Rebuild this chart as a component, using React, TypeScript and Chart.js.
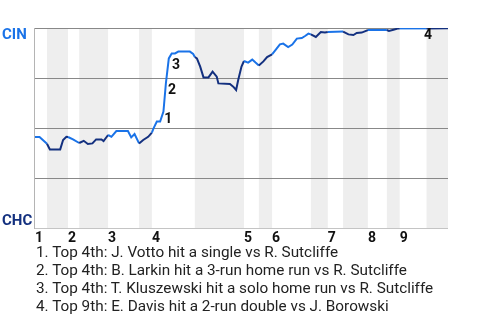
import React, { useEffect, useRef } from "react";
import { Chart, registerables } from "chart.js";

Chart.register(...registerables);

// Play index (0..100) across the game and CIN win probability (%)
const playX = [
  0, 1.1, 1.9, 2.9, 3.6, 6.1, 6.8, 7.6, 8.0, 9.2, 10.7, 11.8, 12.8, 13.9, 14.8, 16.1, 16.6,
  17.7, 18.5, 19.7, 22.5, 23.3, 24.1, 25.2, 26.2, 27.4, 28.3, 28.7, 29.5, 30.3, 31.1, 31.7,
  32.4, 33.1, 33.9, 34.7, 37.5, 38.3, 38.7, 39.2, 40.0, 40.8, 42.0, 43.0, 44.0, 44.4, 47.2,
  48.0, 48.7, 49.2, 50.0, 50.6, 51.6, 52.6, 53.4, 54.2, 55.3, 56.2, 57.4, 58.5, 59.3, 60.1,
  61.3, 62.3, 63.4, 64.6, 65.4, 66.2, 66.8, 68.0, 69.2, 70.2, 70.9, 74.6, 75.9, 77.1, 77.9,
  79.1, 80.3, 80.6, 85.2, 85.7, 86.8, 88.0, 88.3, 93.7, 94.8, 100,
];
const cinWinPct = [
  45.5, 45.5, 44, 42.1, 39.3, 39.3, 44, 45.6, 45.5, 44.3, 42.5, 43.6, 42, 42.3, 44.3, 44.3, 43.5,
  46.5, 45.6, 48.5, 48.5, 45.3, 47, 42.3, 44, 45.6, 47.7, 49.8, 53.2, 53.2, 58.2, 72.5,
  84.8, 87.3, 87.3, 88.2, 88.2, 87, 85.5, 84.8, 80.7, 75.3, 75.3, 78.2, 75.7, 72.3, 72,
  70.7, 69, 74, 80.7, 83.5, 82.7, 84.2, 82.7, 81.3, 83.3, 85.5, 86.8, 89.7, 91.8, 92.2,
  90.5, 91.7, 94.7, 95, 96, 97.2, 96.8, 95.5, 98, 97.7, 98, 98.2, 96.8, 96.5, 97.5,
  97.7, 98.7, 99, 99, 98.5, 99.1, 99.8, 99.8, 99.8, 99.8, 99.9,
];

// Half-inning boundaries (play index): top1, bot1, top2, bot2, ... end
const halfInningStarts = [
  0, 2.9, 8.0, 10.7, 17.7, 25.2, 28.3, 38.7, 50.6, 54.2, 57.4, 66.8, 70.9, 74.6, 80.6, 85.2, 88.3, 94.8, 100,
];
const inningLabels = ["1", "2", "3", "4", "5", "6", "7", "8", "9"];

// Key events
const eventLabels = ["1", "2", "3", "4"];
const eventPlay = [30.8, 31.7, 32.7, 93.7];
const eventWP = [58, 72.5, 85, 99.8];
const eventTexts = [
  "1. Top 4th: J. Votto hit a single vs R. Sutcliffe",
  "2. Top 4th: B. Larkin hit a 3-run home run vs R. Sutcliffe",
  "3. Top 4th: T. Kluszewski hit a solo home run vs R. Sutcliffe",
  "4. Top 9th: E. Davis hit a 2-run double vs J. Borowski",
];

const gridValues = [25, 50, 75, 100];
const teamTop = "CIN";
const teamBottom = "CHC";

const CIN_COLOR = "#1a73e8";
const CHC_COLOR = "#13307f";
const FONT = "Roboto, 'Noto Sans', sans-serif";

function isTopHalf(x: number): boolean {
  for (let i = 0; i < halfInningStarts.length - 1; i++) {
    if (x >= halfInningStarts[i] && x < halfInningStarts[i + 1]) return i % 2 === 0;
  }
  return false;
}

const decorPlugin = {
  id: "decor",
  beforeDatasetsDraw(chart: any) {
    const { ctx, chartArea, scales } = chart;
    const xs = scales.x;
    const ys = scales.y;
    ctx.save();
    // bottom-half bands
    ctx.fillStyle = "#eeeeee";
    for (let i = 1; i < halfInningStarts.length - 1; i += 2) {
      const a = xs.getPixelForValue(halfInningStarts[i]);
      const b = xs.getPixelForValue(halfInningStarts[i + 1]);
      ctx.fillRect(a, chartArea.top, b - a, chartArea.bottom - chartArea.top);
    }
    // grid lines
    ctx.lineWidth = 1;
    ctx.strokeStyle = "#888888";
    gridValues.forEach((v) => {
      const y = Math.round(ys.getPixelForValue(v)) + 0.5;
      ctx.beginPath();
      ctx.moveTo(chartArea.left, y);
      ctx.lineTo(chartArea.right, y);
      ctx.stroke();
    });
    ctx.strokeStyle = "#c4c4c4";
    const yb = Math.round(ys.getPixelForValue(0)) + 0.5;
    ctx.beginPath();
    ctx.moveTo(chartArea.left, yb);
    ctx.lineTo(chartArea.right, yb);
    ctx.stroke();
    const xl = Math.round(chartArea.left) - 0.5;
    ctx.strokeStyle = "#b4b4b4";
    ctx.beginPath();
    ctx.moveTo(xl, chartArea.top);
    ctx.lineTo(xl, yb + 0.5);
    ctx.stroke();
    ctx.restore();
  },
  afterDatasetsDraw(chart: any) {
    const { ctx, chartArea, scales } = chart;
    const xs = scales.x;
    const ys = scales.y;
    ctx.save();
    // team labels
    ctx.font = `bold 15px ${FONT}`;
    ctx.textAlign = "left";
    ctx.textBaseline = "alphabetic";
    ctx.fillStyle = CIN_COLOR;
    ctx.fillText(teamTop, 2, ys.getPixelForValue(100) + 11);
    ctx.fillStyle = CHC_COLOR;
    ctx.fillText(teamBottom, 2, ys.getPixelForValue(0) - 3);
    // inning labels
    ctx.font = `bold 14px ${FONT}`;
    ctx.fillStyle = "#111111";
    inningLabels.forEach((lab, i) => {
      const x = xs.getPixelForValue(halfInningStarts[i * 2]);
      ctx.fillText(lab, x, chartArea.bottom + 14);
    });
    // event labels
    ctx.textAlign = "center";
    eventLabels.forEach((lab, i) => {
      const x = xs.getPixelForValue(eventPlay[i]);
      const y = ys.getPixelForValue(eventWP[i]);
      ctx.fillText(lab, x + 6, y + 11);
    });
    ctx.restore();
  },
};

export default function App() {
  const ref = useRef<HTMLCanvasElement | null>(null);
  useEffect(() => {
    if (!ref.current) return;
    const data = playX.map((x, i) => ({ x, y: cinWinPct[i] }));
    const chart = new Chart(ref.current, {
      type: "line",
      data: {
        datasets: [
          {
            data,
            borderWidth: 2,
            pointRadius: 0,
            tension: 0,
            fill: false,
            borderColor: CIN_COLOR,
            segment: {
              borderColor: (c: any) =>
                isTopHalf((c.p0.parsed.x + c.p1.parsed.x) / 2) ? CIN_COLOR : CHC_COLOR,
            },
          },
        ],
      },
      options: {
        animation: false,
        responsive: false,
        maintainAspectRatio: false,
        layout: { padding: { left: 35, top: 28, right: 32, bottom: 92 } },
        plugins: { legend: { display: false }, tooltip: { enabled: false } },
        scales: {
          x: { type: "linear", min: 0, max: 100, display: false },
          y: { type: "linear", min: 0, max: 100, display: false },
        },
      },
      plugins: [decorPlugin],
    });
    return () => chart.destroy();
  }, []);
  return (
    <div style={{ position: "fixed", left: 0, top: 0, width: 480, height: 320, background: "#fff" }}>
      <canvas ref={ref} width={480} height={320} style={{ position: "absolute", left: 0, top: 0, width: 480, height: 320 }} />
      <div
        style={{
          position: "absolute",
          left: 36,
          top: 243,
          fontFamily: FONT,
          fontSize: 15.3,
          lineHeight: "18px",
          color: "#222",
          whiteSpace: "nowrap",
        }}
      >
        {eventTexts.map((t) => (
          <div key={t}>{t}</div>
        ))}
      </div>
    </div>
  );
}
